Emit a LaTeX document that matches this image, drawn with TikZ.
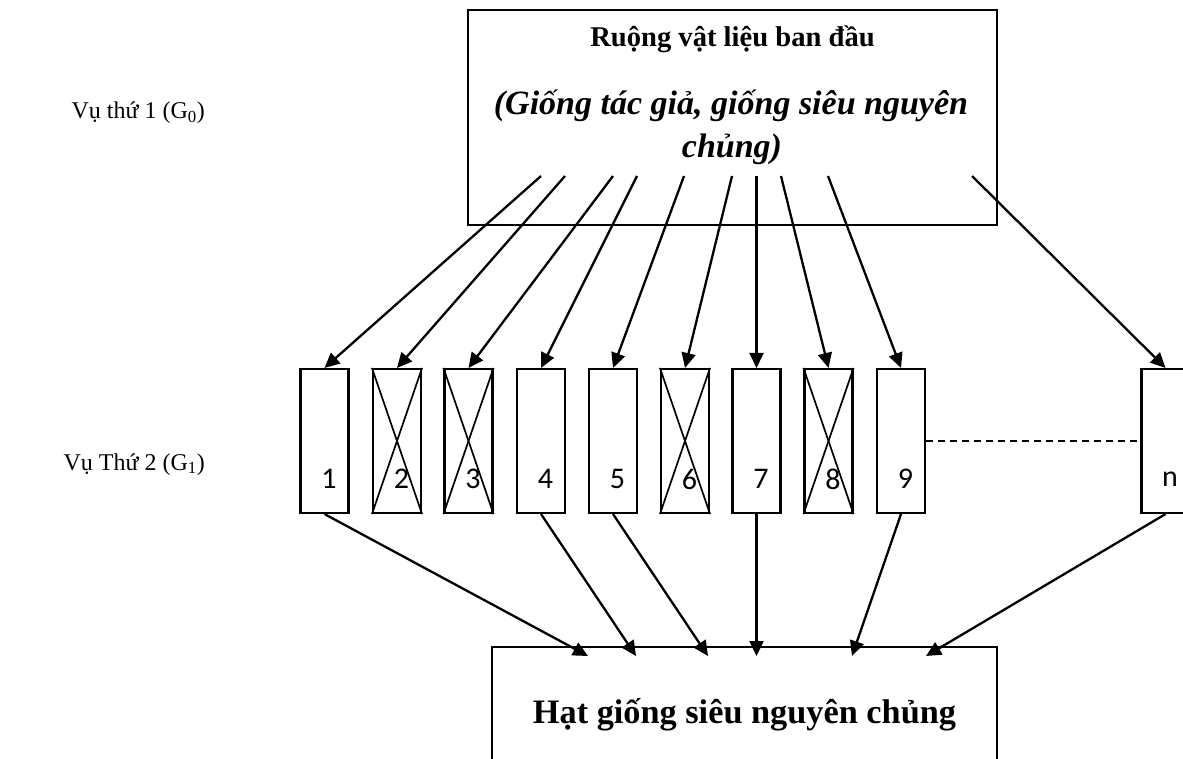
\documentclass[tikz,border=0pt]{standalone}
\usepackage{fontspec}
\setmainfont{Liberation Serif}
\newfontfamily\numfont{Carlito}
\usetikzlibrary{arrows.meta}
\begin{document}
\begin{tikzpicture}[x=1pt,y=-1pt,
  plot/.style={draw, line width=2.1pt, inner sep=0pt, minimum width=48pt, minimum height=144pt},
  bigbox/.style={draw, line width=2.1pt, inner sep=0pt},
  numlbl/.style={anchor=base, xshift=4.5pt, yshift=-38pt, font=\numfont\fontsize{30}{36}\selectfont, inner sep=0pt},
  arr/.style={line width=2.3pt, -{Triangle[length=15pt,width=14pt]}},
  crossln/.style={line width=1.7pt},
  rowlbl/.style={anchor=base east, inner sep=0pt, font=\fontsize{24}{29}\selectfont},
]
\useasboundingbox (0,0) rectangle (1183,759);
\clip (0,0) rectangle (1183,759);
\fill[white] (0,0) rectangle (1183,759);

% top box
\node[bigbox, minimum width=529pt, minimum height=215pt] (top) at (732.5,117.5) {};
\node[anchor=base, inner sep=0pt, font=\bfseries\fontsize{28.6}{34}\selectfont] (title) at (732.5,47) {Ruộng vật liệu ban đầu};
\node[anchor=base, inner sep=0pt, font=\bfseries\itshape\fontsize{34}{40}\selectfont] (sub1) at (731,115) {(Giống tác giả, giống siêu nguyên};
\node[anchor=base, inner sep=0pt, font=\bfseries\itshape\fontsize{34}{40}\selectfont] (sub2) at (732,158) {chủng)};

% row labels
\node[rowlbl] (g0) at (205,119) {Vụ thứ 1 (G\textsubscript{0})};
\node[rowlbl] (g1) at (205,470) {Vụ Thứ 2 (G\textsubscript{1})};

% plots
\node[plot, label={[numlbl]center:1}] (b1) at (324.5,441) {};
\node[plot, label={[numlbl]center:2}] (b2) at (397,441) {};
\node[plot, label={[numlbl]center:3}] (b3) at (468.5,441) {};
\node[plot, label={[numlbl]center:4}] (b4) at (541,441) {};
\node[plot, label={[numlbl]center:5}] (b5) at (613,441) {};
\node[plot, label={[numlbl]center:6}] (b6) at (685,441) {};
\node[plot, label={[numlbl]center:7}] (b7) at (756.5,441) {};
\node[plot, label={[numlbl]center:8}] (b8) at (828.5,441) {};
\node[plot, label={[numlbl]center:9}] (b9) at (901,441) {};
\node[plot, label={[numlbl]center:n}] (bn) at (1165.5,441) {};

% crosses
\foreach \b in {b2,b3,b6,b8}{
  \draw[crossln] (\b.north west) -- (\b.south east);
  \draw[crossln] (\b.north east) -- (\b.south west);
}

% dashed
\draw[line width=1.8pt, dash pattern=on 7pt off 5pt] (b9.east) -- (bn.west);

% bottom box
\node[bigbox, minimum width=505pt, minimum height=200pt] (bot) at (744.5,747) {};
\node[anchor=base, inner sep=0pt, font=\bfseries\fontsize{34.3}{40}\selectfont] (seed) at (744.5,723) {Hạt giống siêu nguyên chủng};

% arrow start points in top box
\coordinate (s1) at (541,176);
\coordinate (s2) at (565,176);
\coordinate (s3) at (613,176);
\coordinate (s4) at (637,176);
\coordinate (s5) at (684,176);
\coordinate (s6) at (732,176);
\coordinate (s7) at (756.5,176);
\coordinate (s8) at (781,176);
\coordinate (s9) at (828,176);
\coordinate (sn) at (972,176);

\draw[arr] (s1) -- (b1.north);
\draw[arr] (s2) -- (b2.north);
\draw[arr] (s3) -- (b3.north);
\draw[arr] (s4) -- (b4.north);
\draw[arr] (s5) -- (b5.north);
\draw[arr] (s6) -- (b6.north);
\draw[arr] (s7) -- (b7.north);
\draw[arr] (s8) -- (b8.north);
\draw[arr] (s9) -- (b9.north);
\draw[arr] (sn) -- (bn.north);

% arrow end points in bottom box
\coordinate (e1) at (588,656);
\coordinate (e4) at (636,656);
\coordinate (e5) at (708,656);
\coordinate (e7) at (756.5,656);
\coordinate (e9) at (852,656);
\coordinate (en) at (926,656);

\draw[arr] (b1.south) -- (e1);
\draw[arr] (b4.south) -- (e4);
\draw[arr] (b5.south) -- (e5);
\draw[arr] (b7.south) -- (e7);
\draw[arr] (b9.south) -- (e9);
\draw[arr] (bn.south) -- (en);
\end{tikzpicture}
\end{document}
